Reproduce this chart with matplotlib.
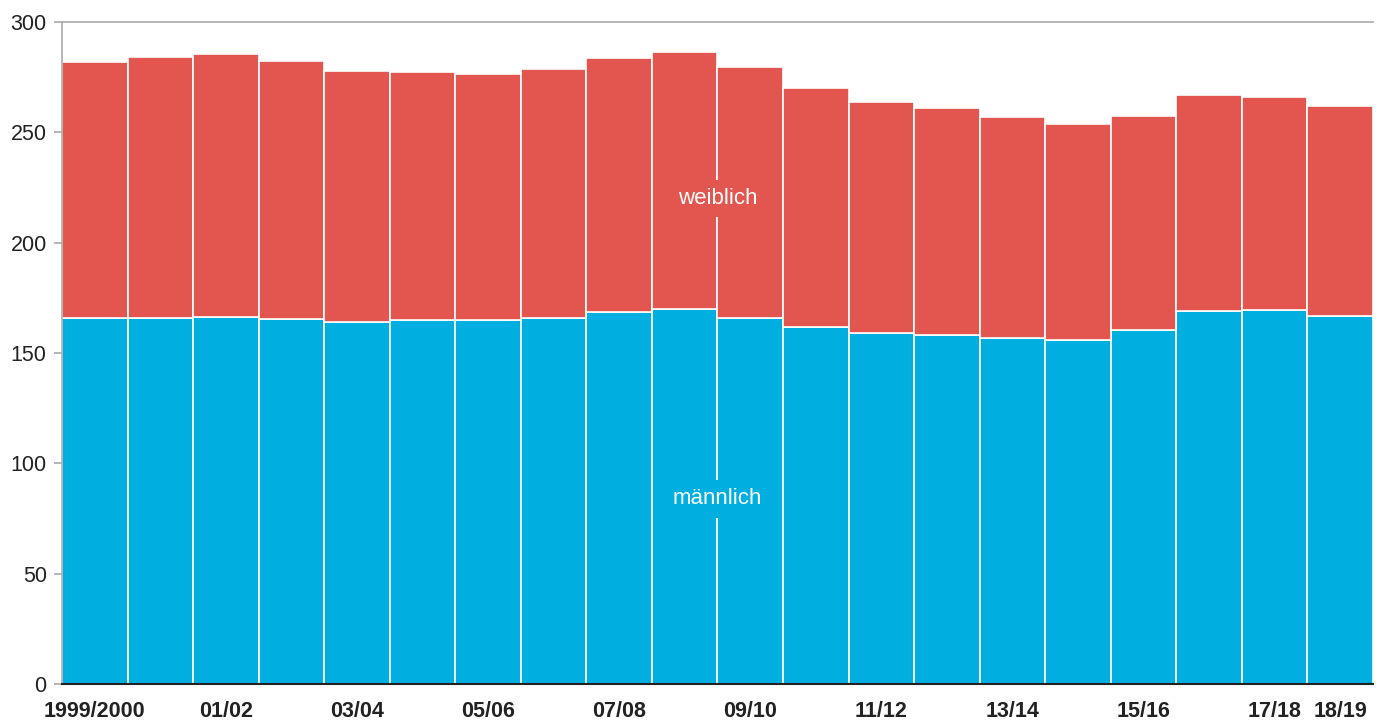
import numpy as np
import matplotlib
matplotlib.use("Agg")
import matplotlib.pyplot as plt

# school years, every bar
years = ["1999/2000", "00/01", "01/02", "02/03", "03/04", "04/05", "05/06",
         "06/07", "07/08", "08/09", "09/10", "10/11", "11/12", "12/13",
         "13/14", "14/15", "15/16", "16/17", "17/18", "18/19"]
shown_labels = ["1999/2000", "01/02", "03/04", "05/06", "07/08", "09/10",
                "11/12", "13/14", "15/16", "17/18", "18/19"]

maennlich = [165.8, 165.8, 166.3, 165.4, 164.0, 165.0, 165.0, 165.8, 168.6, 170.0,
             165.8, 161.8, 159.0, 158.1, 156.8, 155.9, 160.4, 169.0, 169.5, 166.7]
gesamt = [281.8, 284.1, 285.5, 282.3, 277.8, 277.3, 276.4, 278.7, 283.6, 286.4,
          279.6, 270.0, 263.7, 261.0, 256.9, 253.7, 257.4, 266.9, 266.0, 261.9]
weiblich = [g - m for g, m in zip(gesamt, maennlich)]

blue = "#00aee0"
red = "#e35650"

plt.rcParams["font.family"] = ["Liberation Sans", "DejaVu Sans"]

fig = plt.figure(figsize=(13.84, 7.25), dpi=100)
ax = fig.add_axes([0.0448, 0.0566, 0.9472, 0.9131])

x = np.arange(len(years))
ax.bar(x, maennlich, width=1.0, color=blue, edgecolor="white", linewidth=1.2)
ax.bar(x, weiblich, bottom=maennlich, width=1.0, color=red, edgecolor="white",
       linewidth=1.2)

ax.set_xlim(-0.5, len(years) - 0.5)
ax.set_ylim(0, 300)
ax.set_yticks(range(0, 301, 50))
ax.tick_params(axis="y", labelsize=15.5, colors="#aaaaaa", labelcolor="#222222",
               length=6, width=1.2, pad=5)

ticks = [years.index(l) for l in shown_labels]
ax.set_xticks(ticks)
ax.set_xticklabels(shown_labels, fontsize=15.5, fontweight="bold", color="#222222")
ax.tick_params(axis="x", length=0, pad=12)

for s in ["top", "left"]:
    ax.spines[s].set_color("#aaaaaa")
    ax.spines[s].set_linewidth(1.2)
ax.spines["right"].set_visible(False)
ax.spines["bottom"].set_color("#222222")
ax.spines["bottom"].set_linewidth(1.5)

ax.text(9.5, 220, "weiblich", ha="center", va="center", fontsize=16,
        color="white", bbox=dict(facecolor=red, edgecolor="none", pad=6))
ax.text(9.5, 84, "männlich", ha="center", va="center", fontsize=16,
        color="white", bbox=dict(facecolor=blue, edgecolor="none", pad=6))

fig.savefig("out.png", dpi=100)
